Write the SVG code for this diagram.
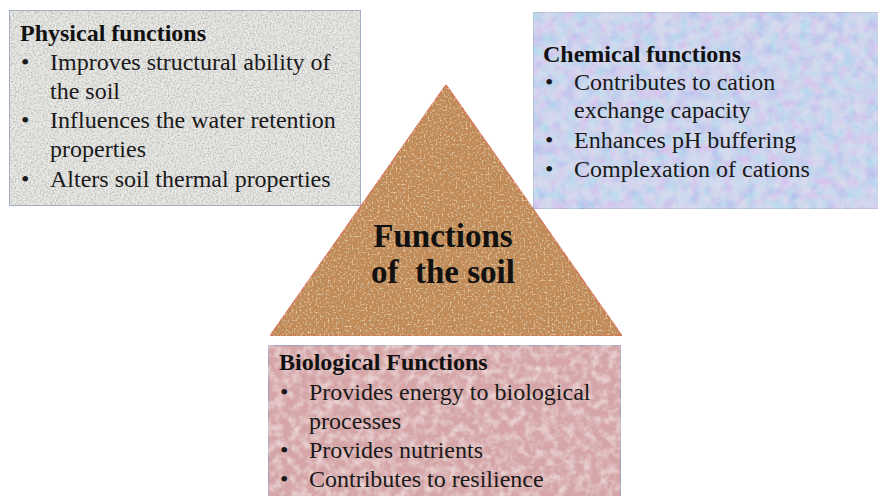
<svg xmlns="http://www.w3.org/2000/svg" width="878" height="496" viewBox="0 0 878 496">
<defs>
<filter id="grain" x="0" y="0" width="100%" height="100%">
<feTurbulence type="fractalNoise" baseFrequency="0.6" numOctaves="2" seed="3" result="n"/>
<feColorMatrix in="n" type="matrix" values="0 0 0 0 0.35  0 0 0 0 0.35  0 0 0 0 0.35  1.6 0 0 0 -0.62" result="a"/>
<feComposite in="a" in2="SourceGraphic" operator="in" result="m"/>
<feMerge><feMergeNode in="SourceGraphic"/><feMergeNode in="m"/></feMerge>
</filter>
<filter id="grainpink" x="0" y="0" width="100%" height="100%">
<feTurbulence type="fractalNoise" baseFrequency="0.12" numOctaves="3" seed="5" result="n"/>
<feColorMatrix in="n" type="matrix" values="0 0 0 0 0.93  0 0 0 0 0.82  0 0 0 0 0.82  1.4 0 0 0 -0.55" result="a"/>
<feComposite in="a" in2="SourceGraphic" operator="in" result="m"/>
<feMerge><feMergeNode in="SourceGraphic"/><feMergeNode in="m"/></feMerge>
</filter>
<filter id="cork" x="0" y="0" width="100%" height="100%">
<feTurbulence type="fractalNoise" baseFrequency="0.35" numOctaves="3" seed="7" result="n"/>
<feColorMatrix in="n" type="matrix" values="0 0 0 0 0.45  0 0 0 0 0.28  0 0 0 0 0.13  2.6 0 0 0 -1.15" result="a"/>
<feComposite in="a" in2="SourceGraphic" operator="in" result="m"/>
<feTurbulence type="fractalNoise" baseFrequency="0.5" numOctaves="2" seed="19" result="n2"/>
<feColorMatrix in="n2" type="matrix" values="0 0 0 0 0.92  0 0 0 0 0.72  0 0 0 0 0.48  2.4 0 0 0 -1.2" result="b"/>
<feComposite in="b" in2="SourceGraphic" operator="in" result="m2"/>
<feMerge><feMergeNode in="SourceGraphic"/><feMergeNode in="m"/><feMergeNode in="m2"/></feMerge>
</filter>
<filter id="pastel" x="0" y="0" width="100%" height="100%">
<feTurbulence type="fractalNoise" baseFrequency="0.09" numOctaves="4" seed="11" result="n"/>
<feColorMatrix in="n" type="matrix" values="1.4 0 0 0 0.1  0 0 1.1 0 0.3  0 0 0 0 0.92  0 0 0 0 0.32" result="a"/>
<feComposite in="a" in2="SourceGraphic" operator="in" result="m"/>
<feMerge><feMergeNode in="SourceGraphic"/><feMergeNode in="m"/></feMerge>
</filter>
</defs>
<style>
.box{stroke:#8e9ec4;stroke-width:1.5}
.h{font-family:"Liberation Serif","Times New Roman",serif;font-weight:bold;font-size:24px;fill:#111}
.t{font-family:"Liberation Serif","Times New Roman",serif;font-size:24px;fill:#1a1a1a}
.c{font-family:"Liberation Serif","Times New Roman",serif;font-weight:bold;font-size:33px;fill:#111;text-anchor:middle}
</style>
<rect width="878" height="496" fill="#ffffff"/>
<g id="physical">
<rect class="box" x="9" y="10" width="352" height="196" fill="#e9e9e6" filter="url(#grain)"/>
<text class="h" x="20" y="41">Physical functions</text>
<text class="t" x="21" y="70">•</text><text class="t" x="50" y="70">Improves structural ability of</text>
<text class="t" x="50" y="99">the soil</text>
<text class="t" x="21" y="128">•</text><text class="t" x="50" y="128">Influences the water retention</text>
<text class="t" x="50" y="157">properties</text>
<text class="t" x="21" y="187">•</text><text class="t" x="50" y="187">Alters soil thermal properties</text>
</g>
<g id="chemical">
<rect class="box" x="533" y="12" width="350" height="197" fill="#bdc6e8" filter="url(#pastel)"/>
<text class="h" x="543" y="62">Chemical functions</text>
<text class="t" x="545" y="90">•</text><text class="t" x="574" y="90">Contributes to cation</text>
<text class="t" x="574" y="118">exchange capacity</text>
<text class="t" x="545" y="148">•</text><text class="t" x="574" y="148">Enhances pH buffering</text>
<text class="t" x="545" y="177">•</text><text class="t" x="574" y="177">Complexation of cations</text>
</g>
<g id="center">
<polygon points="446,85 622,336 270,336" fill="#c38a55" stroke="#d9735a" stroke-width="1.5" filter="url(#cork)"/>
<text class="c" x="443" y="247">Functions</text>
<text class="c" x="443" y="283" xml:space="preserve">of  the soil</text>
</g>
<g id="biological">
<rect class="box" x="268" y="345" width="353" height="160" fill="#d5a5a7" filter="url(#grainpink)"/>
<text class="h" x="279" y="370">Biological Functions</text>
<text class="t" x="280" y="400">•</text><text class="t" x="309" y="400">Provides energy to biological</text>
<text class="t" x="309" y="429">processes</text>
<text class="t" x="280" y="458">•</text><text class="t" x="309" y="458">Provides nutrients</text>
<text class="t" x="280" y="487">•</text><text class="t" x="309" y="487">Contributes to resilience</text>
</g>
<g id="connectors"></g>
</svg>
